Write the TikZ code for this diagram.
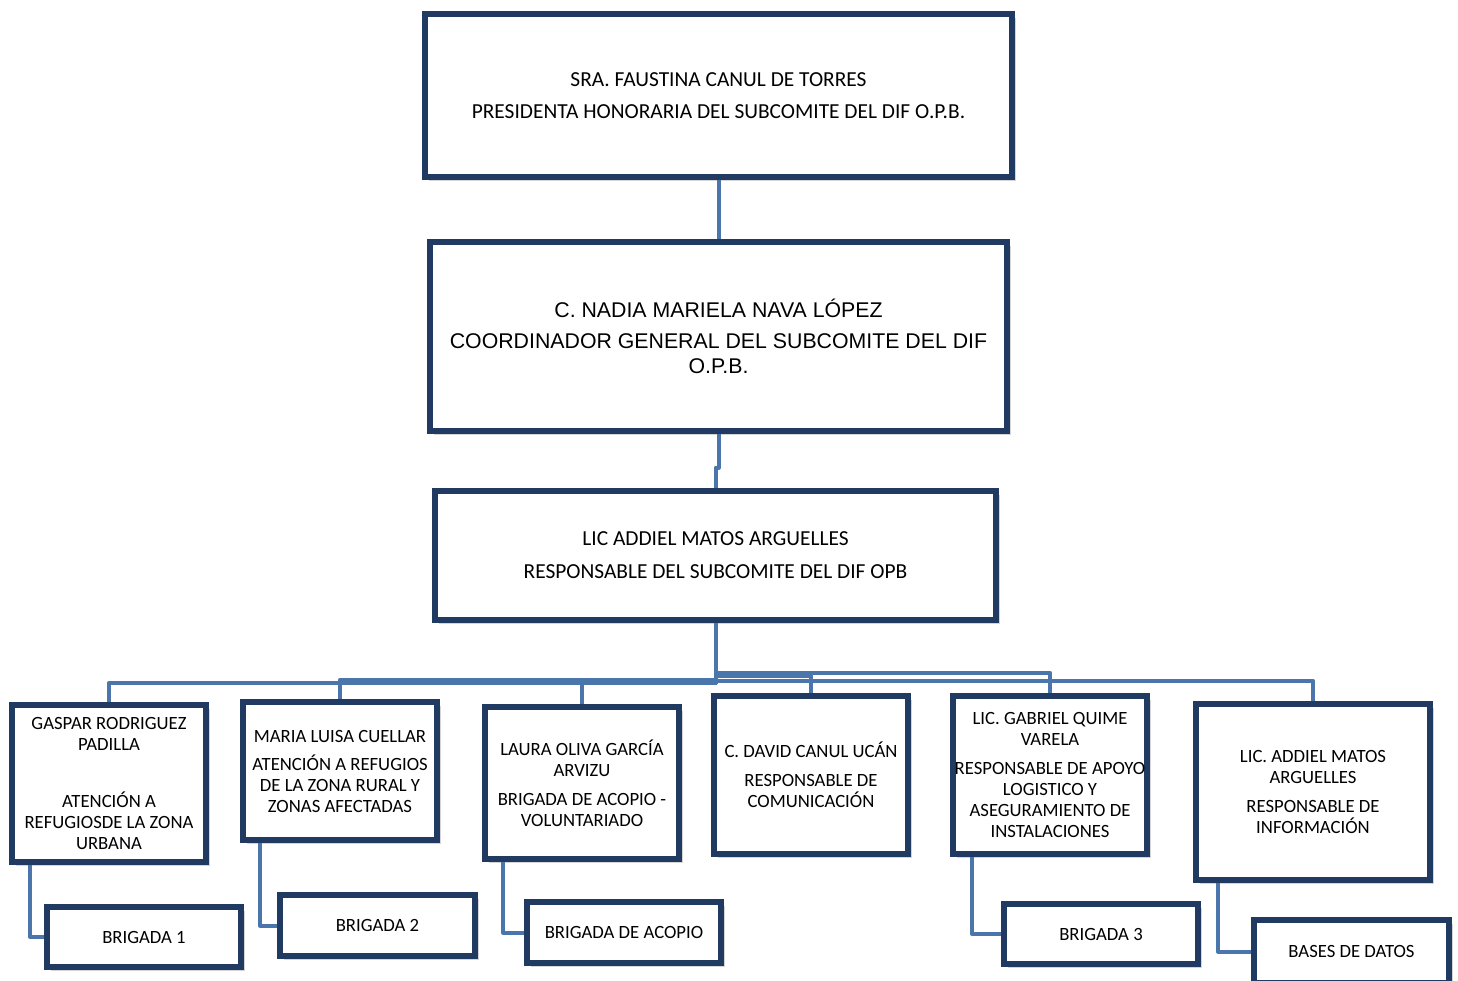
\documentclass[tikz,border=0pt]{standalone}
\usepackage{fontspec}
\setmainfont{Carlito}
\newfontfamily\arialf{Liberation Sans}
\usetikzlibrary{shadows}
\definecolor{boxc}{RGB}{33,58,98}
\definecolor{connc}{RGB}{74,118,172}
\begin{document}
\begin{tikzpicture}[x=1pt,y=-1pt,
  box/.style={draw=boxc, line width=5.5pt, fill=white, align=center, inner sep=0pt,
    drop shadow={shadow xshift=4pt, shadow yshift=-4pt, opacity=0.3, fill=black!55}},
  conn/.style={draw=connc, line width=4pt, line join=round},
  small/.style={font=\fontsize{18.7}{21}\selectfont},
  big/.style={font=\fontsize{21.4}{25}\selectfont},
  bigarial/.style={font=\arialf\fontsize{21.3}{25}\selectfont}]
\useasboundingbox (0,0) rectangle (1458,981);

% upper levels
\node[box, big, minimum width=587pt, minimum height=163pt] (top) at (718.5,95.5)
  {SRA. FAUSTINA CANUL DE TORRES\\[7pt]PRESIDENTA HONORARIA DEL SUBCOMITE DEL DIF O.P.B.};
\node[box, bigarial, minimum width=577pt, minimum height=189pt] (mid) at (718.5,336.5)
  {C. NADIA MARIELA NAVA LÓPEZ\\[6pt]COORDINADOR GENERAL DEL SUBCOMITE DEL DIF\\O.P.B.};
\node[box, big, minimum width=561pt, minimum height=129pt] (resp) at (715.5,555.5)
  {LIC ADDIEL MATOS ARGUELLES\\[8pt]RESPONSABLE DEL SUBCOMITE DEL DIF OPB};

% second row
\node[box, small, minimum width=194pt, minimum height=157pt] (gaspar) at (109,783.5)
  {GASPAR RODRIGUEZ\\PADILLA\\[36pt]ATENCIÓN A\\REFUGIOSDE LA ZONA\\URBANA};
\node[box, small, minimum width=194pt, minimum height=138pt] (maria) at (340,771)
  {MARIA LUISA CUELLAR\\[7pt]ATENCIÓN A REFUGIOS\\DE LA ZONA RURAL Y\\ZONAS AFECTADAS};
\node[box, small, minimum width=194pt, minimum height=152pt] (laura) at (582,783)
  {LAURA OLIVA GARCÍA\\ARVIZU\\[8pt]BRIGADA DE ACOPIO -\\VOLUNTARIADO};
\node[box, small, minimum width=194pt, minimum height=158pt] (david) at (811,775)
  {C. DAVID CANUL UCÁN\\[8pt]RESPONSABLE DE\\COMUNICACIÓN};
\node[box, small, minimum width=194pt, minimum height=158pt] (gabriel) at (1050,775)
  {LIC. GABRIEL QUIME\\VARELA\\[8pt]RESPONSABLE DE APOYO\\LOGISTICO Y\\ASEGURAMIENTO DE\\INSTALACIONES};
\node[box, small, minimum width=234pt, minimum height=176pt] (addiel) at (1313,792)
  {LIC. ADDIEL MATOS\\ARGUELLES\\[8pt]RESPONSABLE DE\\INFORMACIÓN};

% third row
\node[box, small, minimum width=194pt, minimum height=60pt] (b1) at (144,937) {BRIGADA 1};
\node[box, small, minimum width=195pt, minimum height=61pt] (b2) at (377.5,925.5) {BRIGADA 2};
\node[box, small, minimum width=194pt, minimum height=61pt] (bac) at (624,932.5) {BRIGADA DE ACOPIO};
\node[box, small, minimum width=194pt, minimum height=60pt] (b3) at (1101,934) {BRIGADA 3};
\node[box, small, minimum width=195pt, minimum height=63pt] (bases) at (1351.5,951.5) {BASES DE DATOS};

% connectors
\draw[conn] (top.south) -- (mid.north);
\draw[conn] (mid.south) -- ++(0,34) -| (resp.north);
\draw[conn] (resp.south) -- ++(0,60) -| (gaspar.north);
\draw[conn] (resp.south) -- ++(0,57) -| (maria.north);
\draw[conn] (resp.south) -- ++(0,60) -| (laura.north);
\draw[conn] (resp.south) -- ++(0,53) -| (david.north);
\draw[conn] (resp.south) -- ++(0,50) -| (gabriel.north);
\draw[conn] (resp.south) -- ++(0,58) -| (addiel.north);
\draw[conn] ([xshift=-79pt]gaspar.south) |- (b1.west);
\draw[conn] ([xshift=-80pt]maria.south) |- (b2.west);
\draw[conn] ([xshift=-79pt]laura.south) |- (bac.west);
\draw[conn] ([xshift=-78pt]gabriel.south) |- (b3.west);
\draw[conn] ([xshift=-95pt]addiel.south) |- (bases.west);
\end{tikzpicture}
\end{document}
